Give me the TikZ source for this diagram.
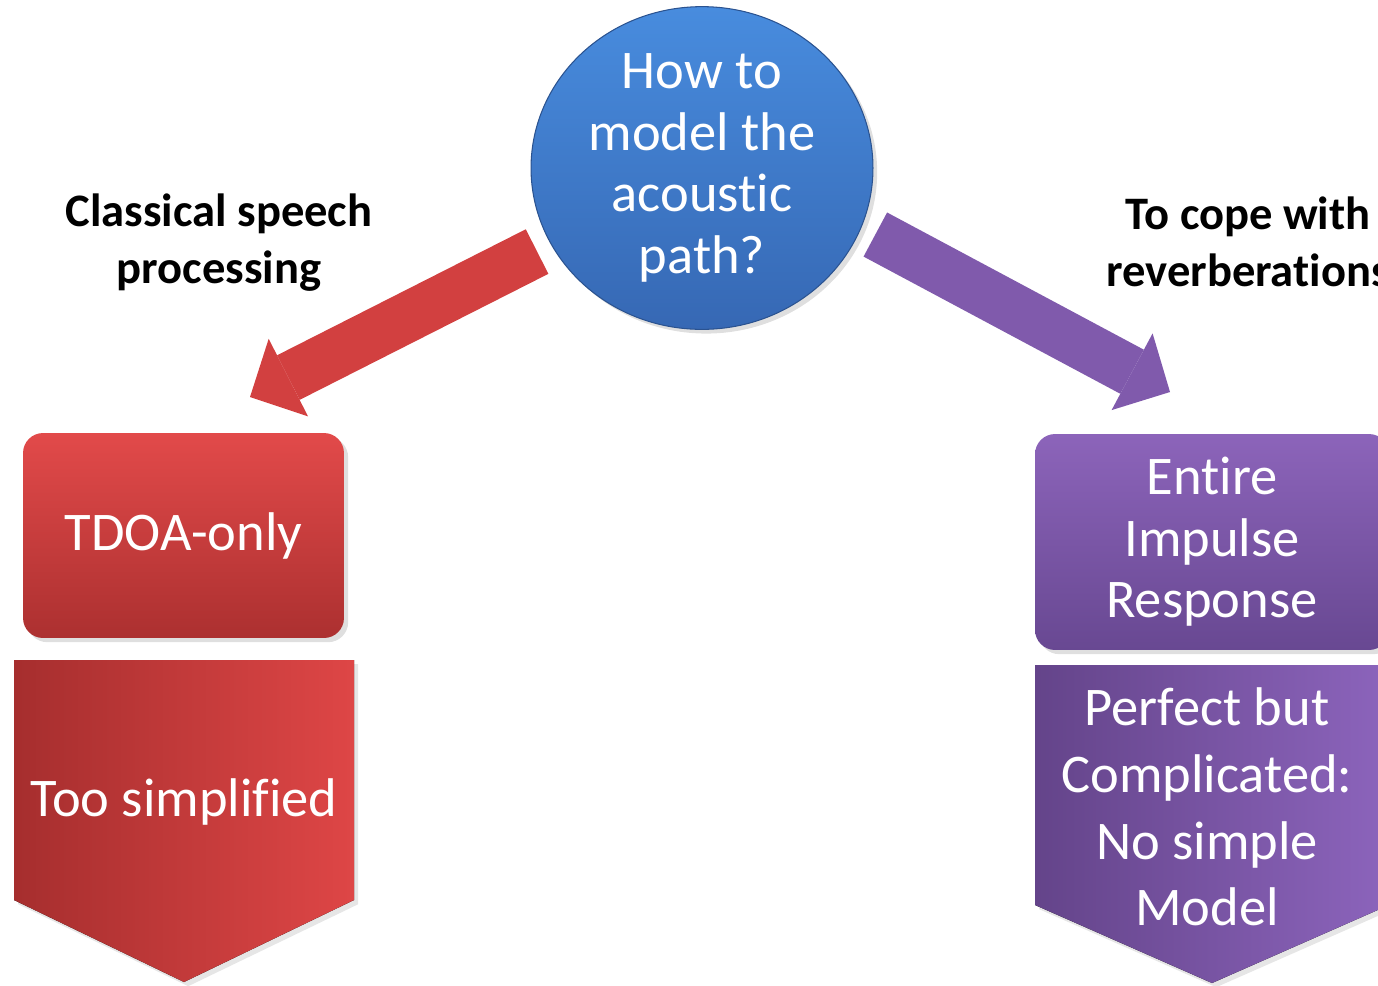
\documentclass[tikz,border=0pt]{standalone}
\usepackage{fontspec}
\setmainfont{Carlito}[Ligatures=NoCommon]
\usetikzlibrary{positioning,arrows.meta,shapes.geometric,shadows}

\definecolor{qtop}{RGB}{72,140,222}
\definecolor{qbot}{RGB}{54,104,180}
\definecolor{rtop}{RGB}{226,74,74}
\definecolor{rbot}{RGB}{172,48,48}
\definecolor{rleft}{RGB}{166,46,46}
\definecolor{rright}{RGB}{222,70,70}
\definecolor{rarrow}{RGB}{210,64,64}
\definecolor{ptop}{RGB}{140,100,186}
\definecolor{pbot}{RGB}{104,72,146}
\definecolor{pleft}{RGB}{100,68,138}
\definecolor{pright}{RGB}{140,100,188}
\definecolor{parrow}{RGB}{128,90,172}

\tikzset{
  whitetext/.style={text=white, align=center, font=\fontsize{31}{35}\selectfont},
  question/.style={ellipse, inner sep=0pt, minimum width=6.84cm, minimum height=6.4cm,
    top color=qtop, bottom color=qbot, draw=qbot!80!black, line width=0.6pt,
    outer sep=0.32cm, drop shadow={opacity=0.25}, whitetext},
  answerbox/.style={rectangle, rounded corners=0.4cm, inner sep=0pt,
    drop shadow={opacity=0.25}, whitetext},
  branch/.style={font=\bfseries\fontsize{26.5}{32.5}\selectfont, align=center},
  bigarrow/.style={line width=1cm, draw=#1,
    -{Triangle[length=0pt 0.86, width=0pt 1.74, line width=0pt]}},
}

\begin{document}
\begin{tikzpicture}[x=0.02cm, y=-0.02cm]
  \useasboundingbox (0,0) rectangle (1378,985);

  % question in the middle
  \node[question] (q) at (702,168) {How to\\model the\\acoustic\\path?};

  % left branch
  \node[branch] (lclass) at (219,243) {Classical speech\\processing};
  \node[answerbox, minimum width=6.42cm, minimum height=4.1cm, top color=rtop, bottom color=rbot] (tdoa) at (183.5,535.5) {TDOA-only};
  \fill[left color=rleft, right color=rright, drop shadow={opacity=0.2}]
    (14,660) -- (354,660) -- (354,900) -- (184,982) -- (14,900) -- cycle;
  \node[whitetext] (simp) at (184,802) {Too simplified};

  % right branch
  \node[branch] (rcope) at (1248,242) {To cope with\\reverberations};
  \node[answerbox, minimum width=7.08cm, minimum height=4.32cm, top color=ptop, bottom color=pbot] (eir) at (1212,542) {Entire\\Impulse\\Response};
  \fill[left color=pleft, right color=pright, drop shadow={opacity=0.2}]
    (1035,665) -- (1389,665) -- (1389,905) -- (1212,983) -- (1035,905) -- cycle;
  \node[whitetext, font=\fontsize{31}{38}\selectfont] (perf) at (1207,807) {Perfect but\\Complicated:\\No simple\\Model};

  \coordinate (ltip) at (250,397);
  \coordinate (rtip) at (1170,392);

  \draw[bigarrow=rarrow] (q) -- (ltip);
  \draw[bigarrow=parrow] (q.-21) -- (rtip);

\end{tikzpicture}
\end{document}
